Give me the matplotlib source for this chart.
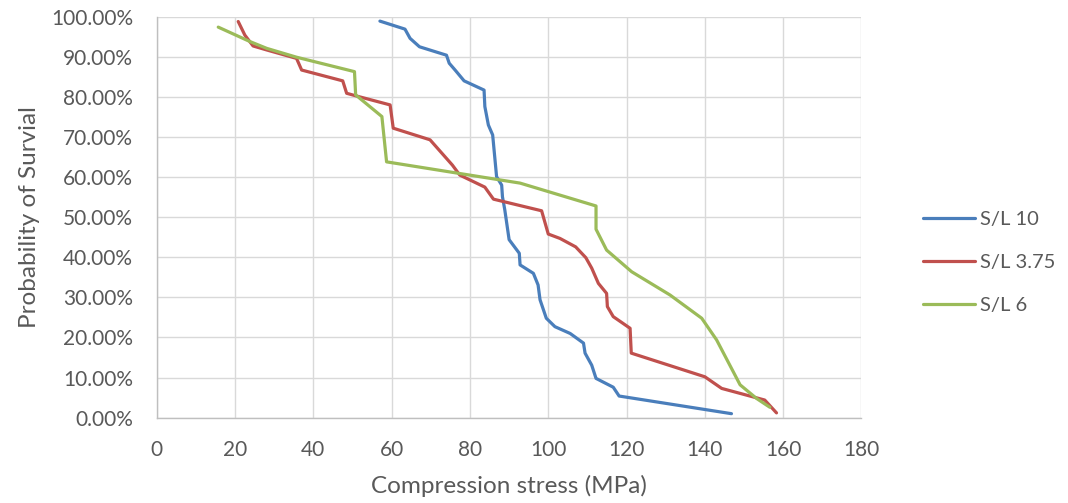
import matplotlib
matplotlib.use("Agg")
import matplotlib.pyplot as plt
from matplotlib.ticker import PercentFormatter, MultipleLocator

# -----------------------
# DATA (stress in MPa, survival in %)
# -----------------------
sl10_stress = [57.0, 63.4, 64.7, 67.1, 74.0, 74.7, 76.2, 78.5, 83.6, 83.8, 84.7, 85.8,
               86.8, 88.1, 88.3, 88.9, 90.0, 92.6, 92.8, 96.2, 97.4, 97.9, 99.5, 101.7,
               105.6, 109.0, 109.4, 111.1, 112.2, 116.6, 118.1, 146.8]
sl10_surv = [98.9, 96.9, 94.6, 92.5, 90.4, 88.4, 86.7, 84.0, 81.7, 77.6, 73.0, 70.5,
             60.1, 58.0, 55.1, 51.8, 44.4, 41.0, 38.1, 36.0, 33.1, 29.4, 24.8, 22.7,
             21.0, 18.6, 16.1, 13.1, 9.8, 7.6, 5.4, 1.0]

sl375_stress = [20.8, 22.5, 24.6, 28.1, 35.7, 37.0, 47.5, 48.5, 51.1, 59.6, 60.4, 69.8,
                75.5, 77.4, 83.8, 86.0, 98.3, 100.0, 103.0, 107.0, 109.6, 111.1, 112.8,
                114.9, 115.1, 116.6, 120.9, 121.2, 140.0, 144.3, 155.3, 158.3]
sl375_surv = [98.8, 95.4, 92.7, 91.7, 89.6, 86.7, 84.0, 80.9, 80.2, 78.0, 72.2, 69.3,
              63.0, 60.5, 57.5, 54.5, 51.6, 45.8, 44.7, 42.6, 39.9, 37.3, 33.5,
              31.0, 27.7, 25.2, 22.3, 16.1, 10.2, 7.3, 4.4, 1.2]

sl6_stress = [15.7, 23.8, 28.1, 35.7, 50.5, 50.8, 57.5, 58.7, 92.8, 112.2, 112.2, 114.9,
              121.3, 131.1, 139.2, 143.0, 149.0, 153.2, 156.6]
sl6_surv = [97.4, 93.8, 92.1, 89.9, 86.3, 80.5, 75.1, 63.8, 58.5, 52.8, 47.0, 41.8,
            36.4, 30.6, 24.8, 19.4, 8.2, 4.8, 2.6]

series = [
    ("S/L 10", sl10_stress, sl10_surv, "#4a7ebb"),
    ("S/L 3.75", sl375_stress, sl375_surv, "#c0504d"),
    ("S/L 6", sl6_stress, sl6_surv, "#9bbb59"),
]

# -----------------------
# PLOT
# -----------------------
plt.rcParams["font.family"] = ["Lato", "DejaVu Sans"]
text_col = "#595959"

fig = plt.figure(figsize=(10.68, 5.03), dpi=100)
ax = fig.add_axes([0.1468, 0.1696, 0.6598, 0.7972])

for name, xs, ys, col in series:
    ax.plot(xs, ys, color=col, lw=2.3, label=name, solid_joinstyle="round",
            solid_capstyle="round")

ax.set_xlim(0, 180)
ax.set_ylim(0, 100)
ax.xaxis.set_major_locator(MultipleLocator(20))
ax.yaxis.set_major_locator(MultipleLocator(10))
ax.yaxis.set_major_formatter(PercentFormatter(100, decimals=2))

ax.grid(True, color="#d9d9d9", lw=1.0)
ax.set_axisbelow(True)
for side in ["top", "right"]:
    ax.spines[side].set_visible(False)
for side in ["left", "bottom"]:
    ax.spines[side].set_color("#bfbfbf")
    ax.spines[side].set_linewidth(1.0)

ax.tick_params(axis="both", length=0, labelsize=15, labelcolor=text_col)
ax.tick_params(axis="y", pad=17)
ax.tick_params(axis="x", pad=16)

ax.set_xlabel("Compression stress (MPa)", fontsize=17.5, color=text_col, labelpad=11)
ax.set_ylabel("Probability of Survial", fontsize=17.5, color=text_col, labelpad=8)

fig.legend(loc="center left", bbox_to_anchor=(0.847, 0.478), frameon=False,
           fontsize=14.5, labelcolor=text_col, handlelength=2.6, handletextpad=0.25,
           labelspacing=1.3)

fig.savefig("out.png", dpi=100)
